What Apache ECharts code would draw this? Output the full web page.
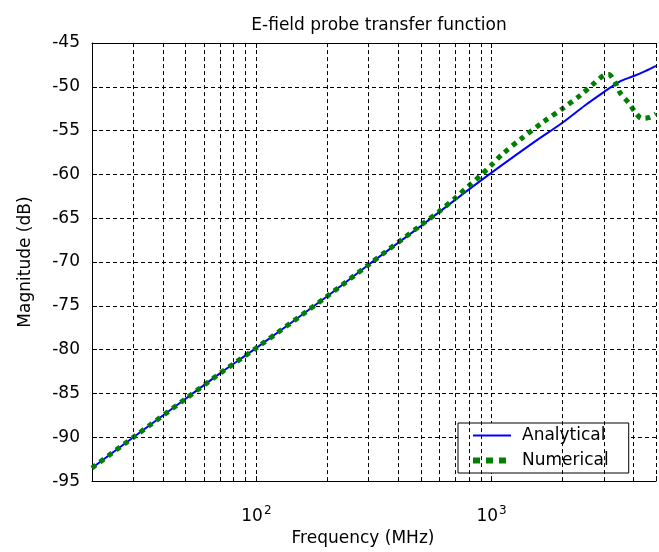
<!DOCTYPE html>
<html><head><meta charset="utf-8">
<script src="https://cdn.jsdelivr.net/npm/echarts@6/dist/echarts.min.js"></script>
<style>html,body{margin:0;padding:0;background:#fff}#c{width:659px;height:552px}</style>
</head><body><div id="c"></div>
<script>
var titleText = 'E-field probe transfer function';
var xName = 'Frequency (MHz)';
var yName = 'Magnitude (dB)';
var xMin = 20, xMax = 5000;
var yMin = -95, yMax = -45, yStep = 5;
var minorGrid = [30, 40, 50, 60, 70, 80, 90, 200, 300, 400, 500, 600, 700, 800, 900, 2000, 3000, 4000];

var analyticalFreq = [20, 30, 50, 70, 100, 200, 300, 500, 700, 1000, 1500, 2000, 2500, 3000, 3500, 4000, 4500, 5000];
var analyticalDb   = [-93.5, -90.0, -85.6, -82.7, -79.8, -73.9, -70.3, -65.9, -62.9, -59.8, -56.4, -54.1, -52.1, -50.6, -49.4, -48.8, -48.2, -47.6];

var numericalFreq = [20, 30, 50, 70, 100, 200, 300, 500, 600, 700, 800, 900, 1000, 1120, 1340, 1660, 2000, 2400, 2700, 3000, 3150, 3350, 3520, 3820, 4080, 4350, 4700, 5000];
var numericalDb   = [-93.5, -90.0, -85.6, -82.7, -79.8, -73.9, -70.3, -65.8, -64.2, -62.7, -61.3, -60.1, -58.9, -57.6, -55.9, -54.0, -52.5, -50.9, -49.7, -48.7, -48.6, -49.5, -50.7, -51.8, -52.9, -53.6, -53.5, -53.1];

function zip(a, b) { return a.map(function (v, i) { return [v, b[i]]; }); }

var FONT = 'DejaVu Sans';
var chart = echarts.init(document.getElementById('c'), null, {renderer: 'canvas'});
var gridDash = {color: '#000', width: 1, type: [4, 3]};

chart.setOption({
  animation: false,
  backgroundColor: '#fff',
  textStyle: {fontFamily: FONT},
  title: {text: titleText, left: 374, top: 12, textAlign: 'center',
          textStyle: {fontFamily: FONT, fontSize: 17, fontWeight: 'normal', color: '#000'}},
  grid: {left: 92, right: 2, top: 43, bottom: 62},
  legend: {
    orient: 'vertical', left: 458, top: 423,
    backgroundColor: '#fff', borderColor: '#000', borderWidth: 1,
    padding: [4, 20, 4, 12], itemGap: 8, itemWidth: 38, itemHeight: 14,
    itemStyle: {opacity: 0},
    textStyle: {fontFamily: FONT, fontSize: 17, color: '#000', padding: [0, 0, 0, 6]},
    data: [
      {name: 'Analytical', lineStyle: {color: '#0000ff', width: 2, type: 'solid'}},
      {name: 'Numerical', lineStyle: {color: '#008000', width: 6, type: [7, 6]}}
    ]
  },
  xAxis: [{
    type: 'log', logBase: 10, min: xMin, max: xMax,
    name: xName, nameLocation: 'middle', nameGap: 42,
    nameTextStyle: {fontFamily: FONT, fontSize: 17, color: '#000', padding: [0, 22, 0, 0]},
    axisLine: {show: true, lineStyle: {color: '#000', width: 1}},
    axisTick: {show: true, inside: true, length: 5, lineStyle: {color: '#000'}},
    splitLine: {show: true, lineStyle: gridDash},
    axisLabel: {
      margin: 24, color: '#000',
      formatter: function (v) {
        var e = Math.log10(v);
        var r = Math.round(e);
        if (Math.abs(e - r) < 1e-6 && (r === 2 || r === 3)) return '{b|10}{s|' + r + '}';
        return '';
      },
      rich: {
        b: {fontFamily: FONT, fontSize: 17, color: '#000', verticalAlign: 'bottom', lineHeight: 20},
        s: {fontFamily: FONT, fontSize: 12, color: '#000', verticalAlign: 'top', lineHeight: 20, padding: [0, 0, 8, 1]}
      }
    }
  }, {
    type: 'log', logBase: 10, min: xMin, max: xMax, position: 'top',
    axisLine: {show: true, lineStyle: {color: '#000', width: 1}},
    axisTick: {show: true, inside: true, length: 5, lineStyle: {color: '#000'}},
    axisLabel: {show: false}, splitLine: {show: false}
  }],
  yAxis: [{
    type: 'value', min: yMin, max: yMax, interval: yStep,
    name: yName, nameLocation: 'middle', nameGap: 58,
    nameTextStyle: {fontFamily: FONT, fontSize: 17, color: '#000'},
    axisLine: {show: true, lineStyle: {color: '#000', width: 1}},
    axisTick: {show: true, inside: true, length: 5, lineStyle: {color: '#000'}},
    splitLine: {show: true, lineStyle: gridDash},
    axisLabel: {fontFamily: FONT, fontSize: 17, color: '#000', margin: 12}
  }],
  series: [{
    name: 'grid-minor', type: 'line', data: [], silent: true,
    markLine: {
      silent: true, symbol: ['none', 'none'], label: {show: false},
      lineStyle: gridDash, animation: false,
      data: minorGrid.map(function (f) { return {xAxis: f}; })
    }
  }, {
    name: 'Analytical', type: 'line', data: zip(analyticalFreq, analyticalDb),
    smooth: 0.3, showSymbol: false, symbol: 'none',
    lineStyle: {color: '#0000ff', width: 2}, itemStyle: {color: '#0000ff'}, z: 3
  }, {
    name: 'Numerical', type: 'line', data: zip(numericalFreq, numericalDb),
    smooth: 0.3, showSymbol: false, symbol: 'none',
    lineStyle: {color: '#008000', width: 5, type: [5, 5]}, itemStyle: {color: '#008000'}, z: 4
  }]
});
</script></body></html>
